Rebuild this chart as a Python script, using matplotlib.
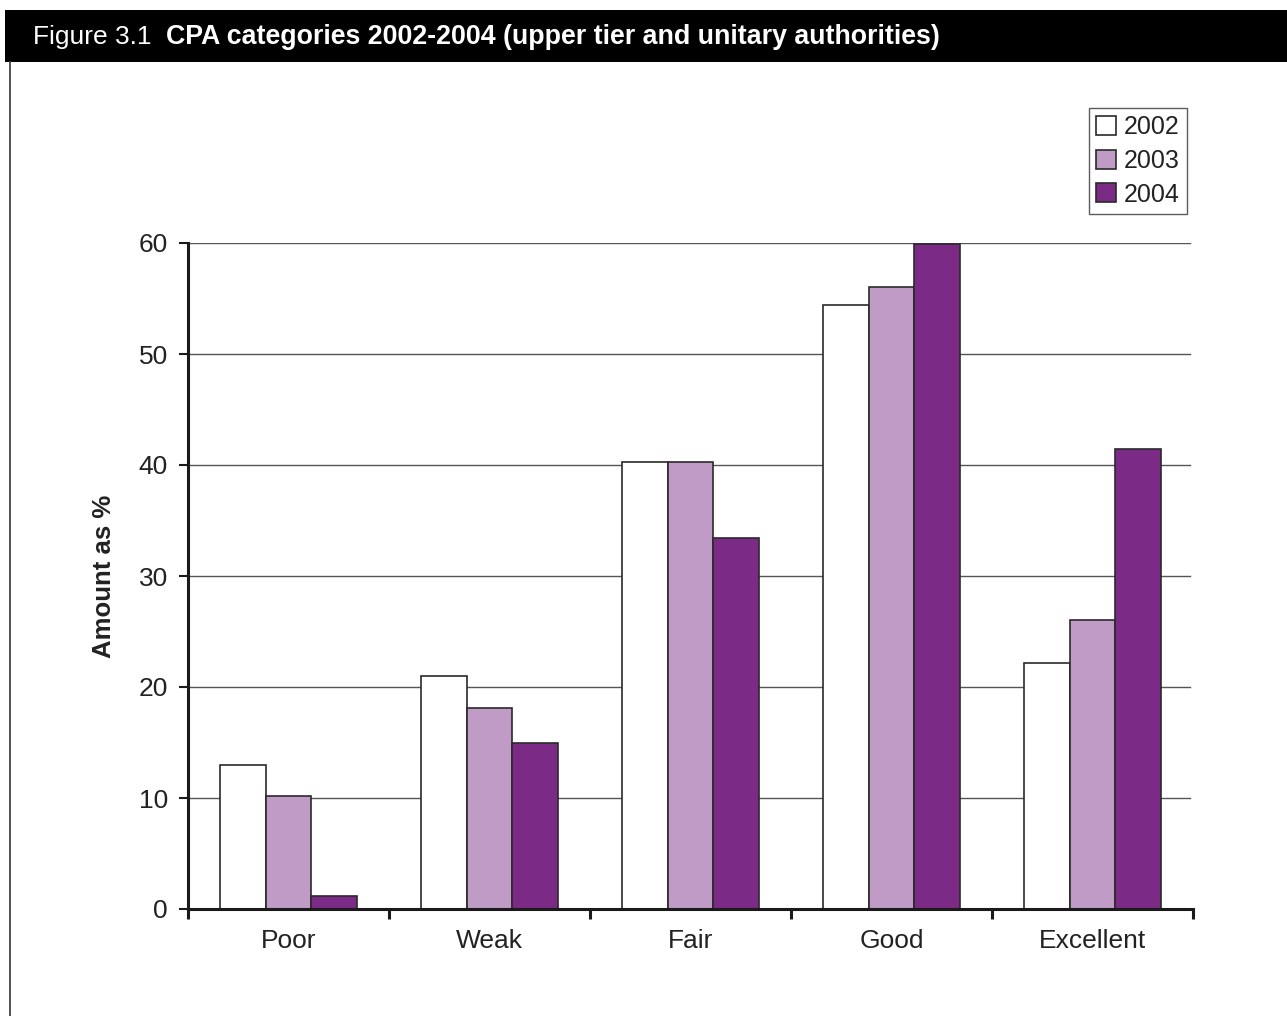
import matplotlib
matplotlib.use("Agg")
import matplotlib.pyplot as plt
import numpy as np
from matplotlib.patches import Rectangle
from matplotlib.lines import Line2D

categories = ["Poor", "Weak", "Fair", "Good", "Excellent"]
years = ["2002", "2003", "2004"]
values_2002 = [13.0, 21.0, 40.3, 54.4, 22.2]
values_2003 = [10.2, 18.1, 40.3, 56.0, 26.0]
values_2004 = [1.2, 15.0, 33.4, 59.9, 41.4]
yticks = [0, 10, 20, 30, 40, 50, 60]

series = [values_2002, values_2003, values_2004]
colors = ["#FFFFFF", "#BF9BC5", "#7B2A85"]

plt.rcParams['font.family'] = ['Liberation Sans', 'DejaVu Sans']

W, H = 1287, 1016
fig = plt.figure(figsize=(W / 100, H / 100), dpi=100)

# Title bar
fig.patches.append(Rectangle((5 / W, 1 - 62 / H), 1 - 5 / W, 52 / H,
                             transform=fig.transFigure, facecolor="black",
                             edgecolor="none", zorder=0))
fig.text(33 / W, 1 - 37 / H, "Figure 3.1", color="white", fontsize=19,
         va="center", ha="left")
fig.text(166 / W, 1 - 37 / H,
         "CPA categories 2002-2004 (upper tier and unitary authorities)",
         color="white", fontsize=19.3, fontweight="bold", va="center", ha="left")
# left border line
fig.lines.append(Line2D([10 / W, 10 / W], [0, 1 - 62 / H], transform=fig.transFigure,
                        color="#444444", linewidth=1.3))

ax = fig.add_axes([188 / W, 1 - 909 / H, 1005 / W, 666 / H])

x = np.arange(len(categories))
bw = 0.227
for i, (vals, c, yr) in enumerate(zip(series, colors, years)):
    ax.bar(x + (i - 1) * bw, vals, width=bw, color=c, edgecolor="#2a2a2a",
           linewidth=1.2, label=yr, zorder=3)

ax.set_xlim(-0.5, len(categories) - 0.5)
ax.set_ylim(0, 60)
ax.set_yticks(yticks)
ax.set_yticklabels([str(t) for t in yticks], fontsize=19, color="#222222")
ax.set_xticks(np.arange(len(categories) + 1) - 0.5)
ax.set_xticklabels([])
ax.set_xticks(x, minor=True)
ax.set_xticklabels(categories, minor=True, fontsize=19, color="#222222")
ax.tick_params(axis="x", which="minor", length=0, pad=14.5)
ax.tick_params(axis="x", which="major", length=7, width=2.2, direction="out", color="#1a1a1a")
ax.tick_params(axis="y", length=6.5, width=1.5, direction="out", color="#1a1a1a", pad=8)

for t in yticks[1:]:
    ax.axhline(t, xmin=0, xmax=0.997, color="#555555", linewidth=1.0, zorder=1)

for s in ["top", "right"]:
    ax.spines[s].set_visible(False)
ax.spines["left"].set_linewidth(2.2)
ax.spines["left"].set_color("#1a1a1a")
ax.spines["bottom"].set_linewidth(2.2)
ax.spines["bottom"].set_color("#1a1a1a")
ax.spines["bottom"].set_zorder(4)

ax.set_ylabel("Amount as %", fontsize=18.5, fontweight="bold", color="#222222", labelpad=16)

leg = ax.legend(loc="upper right", bbox_to_anchor=(1187 / W, 1 - 108 / H),
                bbox_transform=fig.transFigure, fontsize=18, frameon=True,
                fancybox=False, handlelength=0.8, handleheight=0.8,
                handletextpad=0.3, borderpad=0.3, labelspacing=0.38,
                borderaxespad=0)
leg.get_frame().set_edgecolor("#333333")
leg.get_frame().set_linewidth(1.0)
for t in leg.get_texts():
    t.set_color("#222222")

fig.savefig("out.png", dpi=100)
